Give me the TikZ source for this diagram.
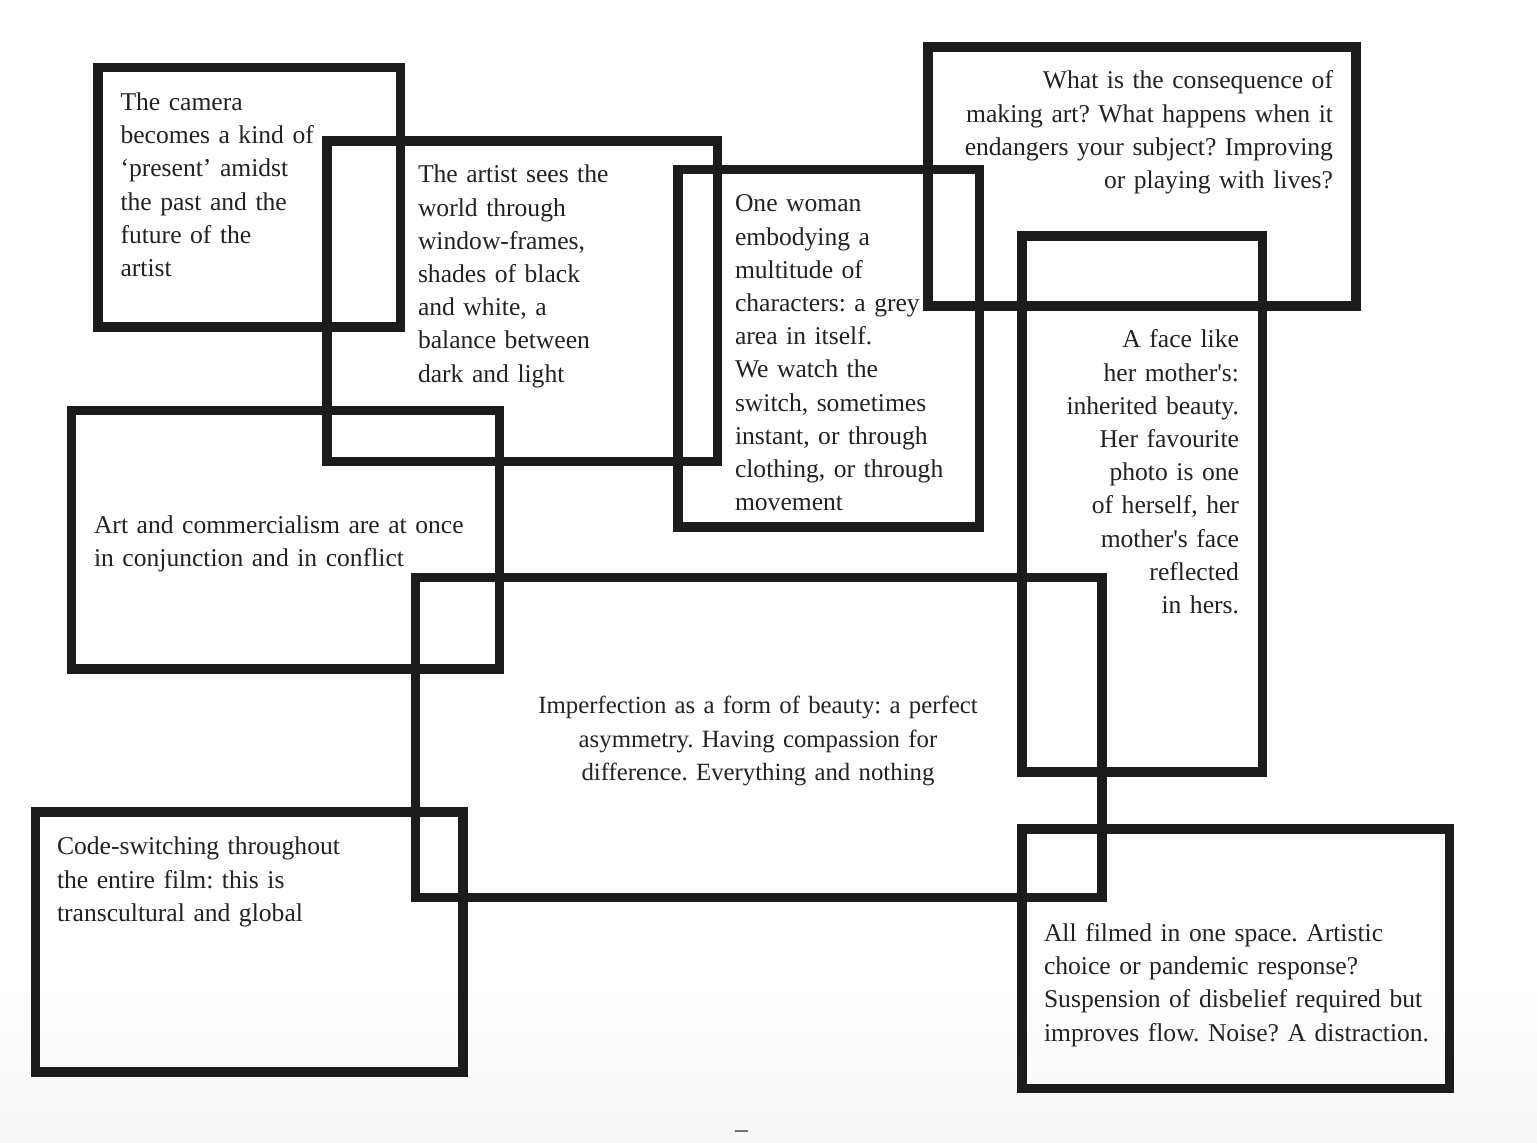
\documentclass[tikz,border=0pt]{standalone}
\usepackage{fontspec}
\setmainfont{Liberation Serif}
\frenchspacing
\definecolor{ink}{HTML}{1C1C1C}
\definecolor{txt}{HTML}{222222}
\begin{document}
\frenchspacing
\begin{tikzpicture}[x=0.5pt,y=-0.5pt,
  frame/.style={draw=ink,line width=4.6pt,line join=miter},
  note/.style={inner sep=0pt,outer sep=0pt,text=txt,
    font=\fontsize{12.8}{16.6}\selectfont,text width=#1},
  note/.default=200pt]
\useasboundingbox (0,0) rectangle (1537,1143);
\fill[white] (0,0) rectangle (1537,1143);
\shade[top color=white,bottom color=black!3] (0,980) rectangle (1537,1143);

% frames
\draw[frame] (98,67.5) rectangle (400.5,327);      % camera
\draw[frame] (327,141) rectangle (717.5,461.5);    % artist
\draw[frame] (928,47) rectangle (1356,306);        % consequence
\draw[frame] (678,169.5) rectangle (979.5,527);    % woman
\draw[frame] (1022,236) rectangle (1262.5,772);    % face
\draw[frame] (71.5,410.5) rectangle (499.5,669);   % art
\draw[frame] (415.5,577.5) rectangle (1102,897.5); % imperfection
\draw[frame] (35.5,812) rectangle (463,1072);      % code
\draw[frame] (1022,829) rectangle (1449.5,1088.5); % filmed

% texts
\node[note,align=left,anchor=base west] (camera) at (120.5,110.5)
  {The camera\\becomes a kind of\\‘present’ amidst\\the past and the\\future of the\\artist};
\node[note,align=left,anchor=base west] (artist) at (418,183)
  {The artist sees the\\world through\\window-frames,\\shades of black\\and white, a\\balance between\\dark and light};
\node[note=220pt,align=right,anchor=base east] (conseq) at (1333,89)
  {What is the consequence of\\making art? What happens when it\\endangers your subject? Improving\\or playing with lives?};
\node[note,align=left,anchor=base west] (woman) at (735,212)
  {One woman\\embodying a\\multitude of\\characters: a grey\\area in itself.\\We watch the\\switch, sometimes\\instant, or through\\clothing, or through\\movement};
\node[note,align=right,anchor=base east] (face) at (1239,348)
  {A face like\\her mother\textquotesingle s:\\inherited beauty.\\Her favourite\\photo is one\\of herself, her\\mother\textquotesingle s face\\reflected\\in hers.};
\node[note=220pt,align=left,anchor=base west] (art) at (94,533.5)
  {Art and commercialism are at once\\in conjunction and in conflict};
\node[note=240pt,align=center,anchor=base,font=\fontsize{12.4}{16.7}\selectfont] (imperf) at (758,714)
  {Imperfection as a form of beauty: a perfect\\asymmetry. Having compassion for\\difference. Everything and nothing};
\node[note,align=left,anchor=base west] (code) at (57,855)
  {Code-switching throughout\\the entire film: this is\\transcultural and global};
\node[note=220pt,align=left,anchor=base west] (filmed) at (1044,941.5)
  {All filmed in one space. Artistic\\choice or pandemic response?\\Suspension of disbelief required but\\improves flow. Noise? A distraction.};
\node[inner sep=0pt,text=txt,font=\fontsize{12.8}{16.6}\selectfont,anchor=base] (pagenum) at (741.5,1137) {–};
\end{tikzpicture}
\end{document}
